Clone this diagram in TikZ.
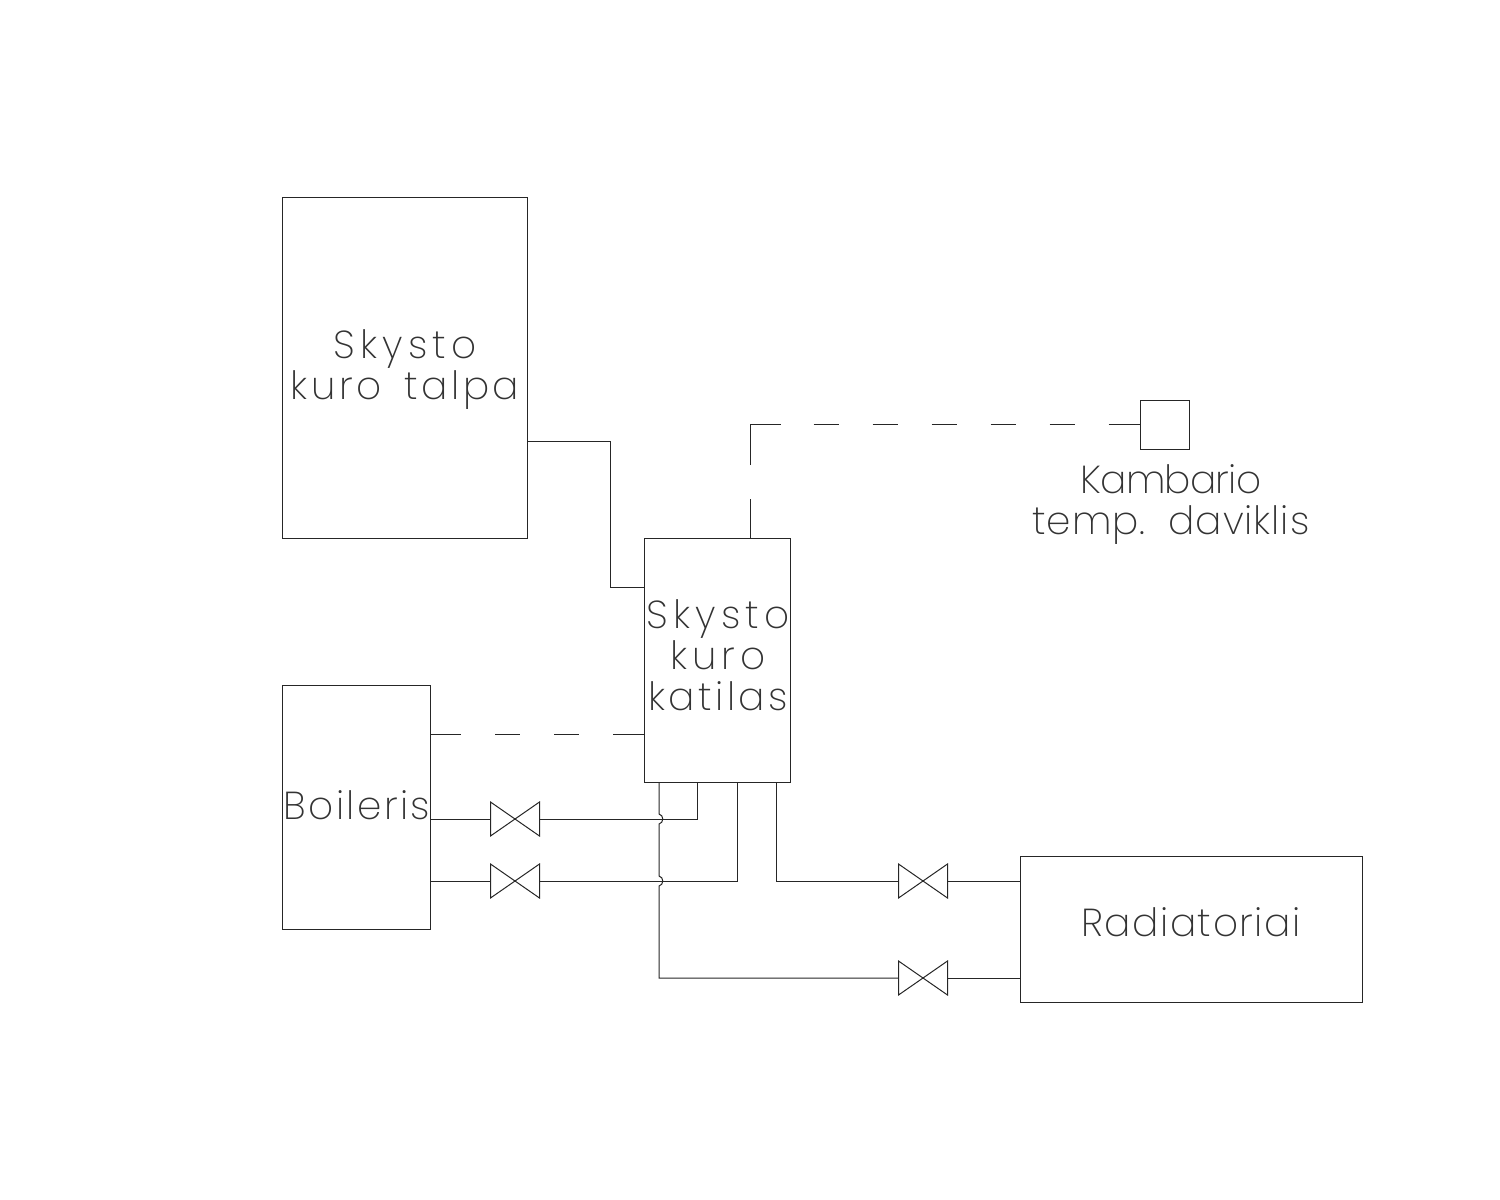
\documentclass[tikz,border=0pt]{standalone}
\usepackage{fontspec}
\setmainfont[LetterSpace=9,WordSpace=1.6]{Poppins ExtraLight}
\usetikzlibrary{calc}
\newcommand{\lsp}[2]{{\addfontfeature{LetterSpace=#1}#2}}
\tikzset{
    cadbox/.style={draw, line width=0.5pt, black!85, inner sep=0pt, outer sep=0pt},
    caption/.style={inner sep=0pt, outer sep=0pt, align=center, font=\fontsize{19.5}{20.5}\selectfont, text=black!80},
    valvebox/.style={minimum width=24.5pt, minimum height=17pt, inner sep=0pt, outer sep=0pt},
    pipe/.style={line width=0.5pt, black!85}
}
\newcommand{\valve}[2]{
    \node[valvebox] (#1) at (#2) {};
    \draw[pipe] (#1.north west) -- (#1.south east) -- (#1.north east) -- (#1.south west) -- cycle;
}
\begin{document}
\begin{tikzpicture}[x=0.5pt, y=-0.5pt]
    \useasboundingbox (0,0) rectangle (1500,1200);

    % talpa
    \node[cadbox, minimum width=122.5pt, minimum height=170.5pt] (talpa) at (404.5,367.5) {};
    \node[caption] (talpatxt) at (405,369.5) {\lsp{13}{Skysto}\\kuro talpa};

    % katilas
    \node[cadbox, minimum width=73pt, minimum height=122pt] (katilas) at (717,660) {};
    \node[caption] (katilastxt) at (718,655.5) {\lsp{13}{Skysto}\\\lsp{13}{kuro}\\katilas};

    % boileris
    \node[cadbox, minimum width=74pt, minimum height=122pt] (boileris) at (356,807) {};
    \node[caption] (boileristxt) at (357,805) {\lsp{6}{Boileris}};

    % radiatoriai
    \node[cadbox, minimum width=171pt, minimum height=73pt] (radiatoriai) at (1191,929) {};
    \node[caption] (radiatoriaitxt) at (1191,922) {\lsp{4}{Radiatoriai}};

    % daviklis
    \node[cadbox, minimum width=24.5pt, minimum height=24.5pt] (daviklis) at (1164.5,424.5) {};
    \node[caption] (daviklistxt) at (1171,505) {\lsp{-2}{Kambario}\\\lsp{2.4}{temp. daviklis}};

    % ventiliai
    \valve{vboilA}{515,819}
    \valve{vboilB}{515,881}
    \valve{vradA}{923,881}
    \valve{vradB}{923,978}

    % kuras
    \draw[pipe] (talpa.east |- 0,441) -- (610,441) -- (610,587) -- (katilas.west |- 0,587);

    % daviklio linija
    \draw[pipe, dash pattern=on 19.5pt off 17pt on 35.5pt off 16.5pt on 12.5pt off 17pt on 12.5pt off 17pt on 12.5pt off 17pt on 12.5pt off 17pt on 12.5pt off 17pt on 16pt]
        (750,538) -- (750,424.5) -- (daviklis.west);

    % boilerio valdymas
    \draw[pipe, dash pattern=on 15.5pt off 17pt on 12.5pt off 17pt on 12.5pt off 17pt on 16pt]
        (boileris.east |- 0,734) -- (katilas.west |- 0,734);

    % boilerio vamzdziai
    \draw[pipe] (boileris.east |- vboilA.west) -- (vboilA.west);
    \draw[pipe] (vboilA.east) -- (697,819) -- (697,782);
    \draw[pipe] (boileris.east |- vboilB.west) -- (vboilB.west);
    \draw[pipe] (vboilB.east) -- (737,881) -- (737,782);

    % radiatoriu vamzdziai
    \draw[pipe] (776,782) -- (776,881) -- (vradA.west);
    \draw[pipe] (vradA.east) -- (radiatoriai.west |- vradA.east);
    \draw[pipe] (659,782) -- (659,814) .. controls (664,815) and (664,823) .. (659,824)
        -- (659,876) .. controls (664,877) and (664,885) .. (659,886)
        -- (659,978) -- (vradB.west);
    \draw[pipe] (vradB.east) -- (radiatoriai.west |- vradB.east);
\end{tikzpicture}
\end{document}
